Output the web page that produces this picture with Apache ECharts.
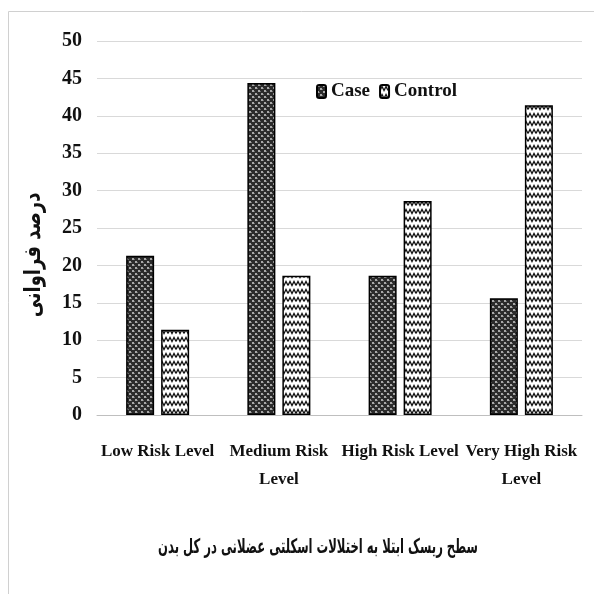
<!DOCTYPE html>
<html>
<head>
<meta charset="utf-8">
<script src="https://cdn.jsdelivr.net/npm/echarts@6/dist/echarts.min.js"></script>
<style>
  html, body { margin: 0; padding: 0; background: #fff; }
  #chart { width: 594px; height: 594px; }
</style>
</head>
<body>
<div id="chart"></div>
<script>
// Risk levels on the category axis
const categories = ['Low Risk Level', 'Medium Risk\nLevel', 'High Risk Level', 'Very High Risk\nLevel'];
// Percentage frequency per group
const caseValues = [21.3, 44.4, 18.6, 15.6];
const controlValues = [11.4, 18.6, 28.6, 41.4];
const seriesNames = ['Case', 'Control'];
const yTicks = { min: 0, max: 50, interval: 5 };
const yTitle = 'درصد فراوانی';
const xTitle = 'سطح ریسک ابتلا به اختلالات اسکلتی عضلانی در کل بدن';

// Dark cross-hatch fill for the Case bars
function casePattern() {
  const c = document.createElement('canvas');
  c.width = 6; c.height = 6;
  const g = c.getContext('2d');
  g.fillStyle = '#2b2b2b';
  g.fillRect(0, 0, 6, 6);
  g.fillStyle = '#a8a8a8';
  g.fillRect(0, 0, 2, 2);
  g.fillRect(3, 3, 2, 2);
  g.fillStyle = '#6a6a6a';
  g.fillRect(2, 1, 1, 1);
  g.fillRect(5, 4, 1, 1);
  return c;
}

// White fill with black zigzag rows for the Control bars
function controlPattern() {
  const c = document.createElement('canvas');
  c.width = 8; c.height = 8;
  const g = c.getContext('2d');
  g.fillStyle = '#ffffff';
  g.fillRect(0, 0, 8, 8);
  g.strokeStyle = '#111';
  g.lineWidth = 1.3;
  g.beginPath();
  g.moveTo(0, 5.5);
  g.lineTo(2, 1.5);
  g.lineTo(4, 5.5);
  g.lineTo(6, 1.5);
  g.lineTo(8, 5.5);
  g.stroke();
  return c;
}

const caseFill = { image: casePattern(), repeat: 'repeat' };
const controlFill = { image: controlPattern(), repeat: 'repeat' };

const chart = echarts.init(document.getElementById('chart'), null, { renderer: 'canvas' });

const serif = '"Liberation Serif", "Times New Roman", serif';
const persian = '"DejaVu Sans", sans-serif';

chart.setOption({
  animation: false,
  backgroundColor: '#fff',
  graphic: [
    { type: 'line', shape: { x1: 8.5, y1: 11.5, x2: 594, y2: 11.5 }, style: { stroke: '#d0d0d0', lineWidth: 1 } },
    { type: 'line', shape: { x1: 8.5, y1: 11.5, x2: 8.5, y2: 594 }, style: { stroke: '#d0d0d0', lineWidth: 1 } },
    {
      type: 'text', x: 34, y: 255, rotation: Math.PI / 2, scaleX: 0.78,
      style: {
        text: yTitle, fontFamily: persian, fontWeight: 'bold', fontSize: 23,
        fill: '#111', align: 'center', verticalAlign: 'middle'
      }
    },
    {
      type: 'text', x: 318, y: 548, scaleX: 0.58,
      style: {
        text: xTitle, fontFamily: persian, fontWeight: 'bold', fontSize: 20,
        fill: '#111', align: 'center', verticalAlign: 'middle'
      }
    }
  ],
  legend: {
    data: seriesNames,
    top: 77,
    left: 311,
    itemWidth: 9,
    itemHeight: 13,
    itemGap: 9,
    textStyle: { fontFamily: serif, fontWeight: 'bold', fontSize: 19, color: '#111' }
  },
  grid: { left: 97, right: 12, top: 41, bottom: 179, containLabel: false },
  xAxis: {
    type: 'category',
    data: categories,
    axisLine: { show: true, lineStyle: { color: '#bfbfbf', width: 1 } },
    axisTick: { show: false },
    axisLabel: {
      fontFamily: serif, fontWeight: 'bold', fontSize: 17, color: '#111',
      margin: 23, interval: 0, lineHeight: 28
    }
  },
  yAxis: {
    type: 'value',
    min: yTicks.min, max: yTicks.max, interval: yTicks.interval,
    axisLine: { show: false },
    axisTick: { show: false },
    splitLine: { lineStyle: { color: '#d9d9d9', width: 1 } },
    axisLabel: { fontFamily: serif, fontWeight: 'bold', fontSize: 20, color: '#111', margin: 15 }
  },
  series: [
    {
      name: seriesNames[0], type: 'bar', data: caseValues,
      barWidth: 28, barGap: '25%',
      itemStyle: { color: caseFill, borderColor: '#000', borderWidth: 1.5 }
    },
    {
      name: seriesNames[1], type: 'bar', data: controlValues,
      barWidth: 28,
      itemStyle: { color: controlFill, borderColor: '#000', borderWidth: 1.5 }
    }
  ]
});
</script>
</body>
</html>
